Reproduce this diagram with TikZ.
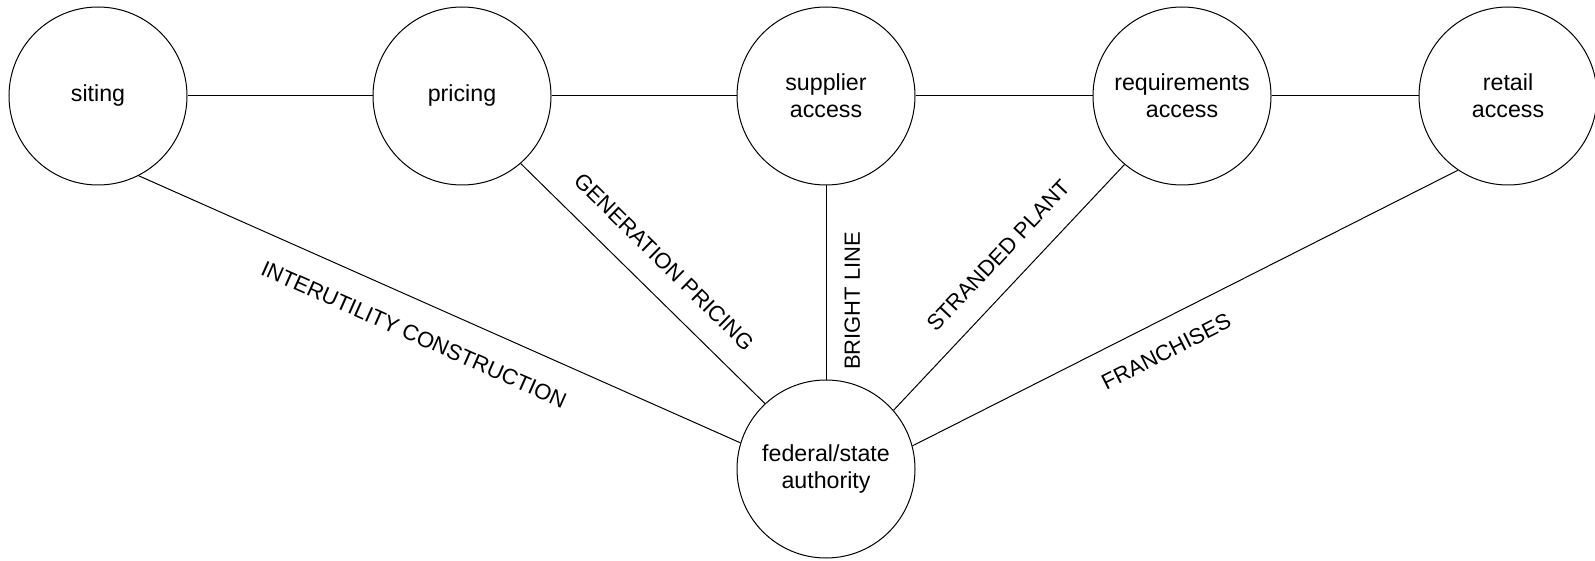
\documentclass[tikz,border=0pt]{standalone}
\usepackage{fontspec}
\setmainfont{Liberation Sans}

\begin{document}
\begin{tikzpicture}[-,line width=0.5pt,node distance=182pt,
  issue/.style={circle,draw,minimum size=89pt,inner sep=0pt,align=center,font=\fontsize{11.6}{13.4}\selectfont},
  tie/.style={sloped,inner sep=0pt,font=\fontsize{11}{13}\selectfont}]
\useasboundingbox (0,0) rectangle (797.5pt,-280.5pt);
\node[issue] (siting) at (49pt,-48pt) {siting};
\node[issue] [right of=siting](pricing) {pricing};
\node[issue] [right of=pricing](supplier) {supplier\\access};
\node[issue] [right of=supplier,node distance=178pt](require) {requirements\\access};
\node[issue] [right of=require,node distance=163pt](retail) {retail\\access};
\node[issue] [below of=supplier,node distance=186.5pt](authority) {federal/state\\authority};
\path (siting)	edge		(pricing)
(pricing)	edge		(supplier)
(supplier)	edge		(require)
(require)	edge		(retail)
(siting.297)	edge	node[tie,pos=0.48,below=12.5pt]{INTERUTILITY CONSTRUCTION} (authority.163.5)
(pricing.311)	edge	node[tie,pos=0.5,above=11pt]{GENERATION PRICING} (authority.133)
(authority.90)	edge	node[tie,pos=0.405,below=9pt]{BRIGHT LINE} (supplier.270)
(authority.41.7)	edge	node[tie,pos=0.548,above=10.5pt]{STRANDED PLANT} (require.230)
(authority.15.8)	edge	node[tie,pos=0.44,below=11pt]{FRANCHISES} (retail.236.3)
;\end{tikzpicture}
\end{document}
